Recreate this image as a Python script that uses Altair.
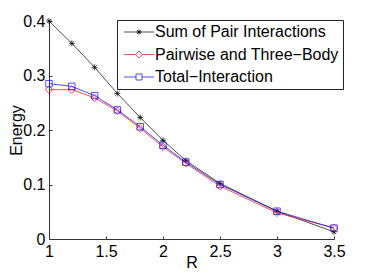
import altair as alt
import pandas as pd

R = [1.0, 1.2, 1.4, 1.6, 1.8, 2.0, 2.2, 2.5, 3.0, 3.5]
sum_pair = [0.400, 0.359, 0.315, 0.267, 0.223, 0.181, 0.144, 0.102, 0.051, 0.013]
pair_three = [0.274, 0.274, 0.259, 0.235, 0.203, 0.169, 0.139, 0.097, 0.048, 0.020]
total_int = [0.285, 0.280, 0.263, 0.237, 0.206, 0.172, 0.141, 0.100, 0.051, 0.020]

series = ["Sum of Pair Interactions", "Pairwise and Three\u2212Body", "Total\u2212Interaction"]
colors = ["#000000", "#ff0000", "#0000ff"]

x_ticks = [1, 1.5, 2, 2.5, 3, 3.5]
y_ticks = [0, 0.1, 0.2, 0.3, 0.4]

rows = []
for name, vals in zip(series, [sum_pair, pair_three, total_int]):
    for r, v in zip(R, vals):
        rows.append({"R": r, "Energy": v, "series": name})
df = pd.DataFrame(rows)

FONT = "Liberation Sans"

asterisk = "M-1,0L1,0M0,-1L0,1M-0.7,-0.7L0.7,0.7M-0.7,0.7L0.7,-0.7"
diamond = "M0,-1L1,0L0,1L-1,0Z"
square = "M-1,-1L1,-1L1,1L-1,1Z"
plot_shapes = [asterisk, diamond, square]
plot_sizes = [36, 56, 42]

leg_paths = [
    "M-3,0L3,0M-0.55,0L0.55,0M0,-0.55L0,0.55M-0.4,-0.4L0.4,0.4M-0.4,0.4L0.4,-0.4",
    "M-3,0L-0.7,0M0.7,0L3,0M0,-0.7L0.7,0L0,0.7L-0.7,0Z",
    "M-3,0L-0.6,0M0.6,0L3,0M-0.6,-0.6L0.6,-0.6L0.6,0.6L-0.6,0.6Z",
]

x_enc = alt.X("R:Q", scale=alt.Scale(domain=[1, 3.5], nice=False, zero=False),
              axis=alt.Axis(values=x_ticks, format="~g", title="R", labelFlush=False,
                            titleBaseline="alphabetic", titleY=28))
y_enc = alt.Y("Energy:Q", scale=alt.Scale(domain=[0, 0.4], nice=False),
              axis=alt.Axis(values=y_ticks, format="~g", title="Energy", labelFlush=False))

layers = []
for name, color, shape, size in zip(series, colors, plot_shapes, plot_sizes):
    sub = alt.Chart(df).transform_filter(alt.datum.series == name)
    layers.append(sub.mark_line(color=color, strokeWidth=0.7).encode(x=x_enc, y=y_enc))
    layers.append(sub.mark_point(shape=shape, color=color, filled=False, size=size,
                                 strokeWidth=0.7, opacity=1).encode(x=x_enc, y=y_enc))

legend = alt.Legend(orient="none", legendX=68, legendY=-1, title=None,
                    strokeColor="#222222", fillColor="white", padding=4,
                    labelFont=FONT, labelFontSize=16, labelColor="black", labelLimit=400,
                    labelExpr="datum.label + '\u00a0\u00a0'",
                    symbolSize=100, symbolStrokeWidth=0.7, symbolOffset=10,
                    labelOffset=8, rowPadding=6.5, symbolFillColor="transparent")

leg_layer = alt.Chart(df).transform_filter("false").mark_point(
    filled=False, strokeWidth=0.7, opacity=1).encode(
    x=x_enc, y=y_enc,
    color=alt.Color("series:N", scale=alt.Scale(domain=series, range=colors), legend=legend, sort=series),
    shape=alt.Shape("series:N", scale=alt.Scale(domain=series, range=leg_paths), legend=legend, sort=series),
)
layers.append(leg_layer)

chart = alt.layer(*layers).properties(
    width=285, height=218,
    autosize=alt.AutoSizeParams(type="none"),
    padding={"left": 41, "top": 13, "right": 27, "bottom": 31},
).configure_view(stroke=None).configure_axis(
    grid=False, domainColor="#333333", tickColor="#333333", domainWidth=1,
    labelFont=FONT, labelFontSize=16, labelColor="black",
    titleFont=FONT, titleFontSize=16, titleColor="black", titleFontWeight="normal",
    tickSize={"expr": "-3"}, labelPadding=7,
).configure_axisX(titlePadding=0).configure_axisY(titlePadding=-2)

chart.save("out.html", embed_options={"renderer": "svg", "actions": False})
